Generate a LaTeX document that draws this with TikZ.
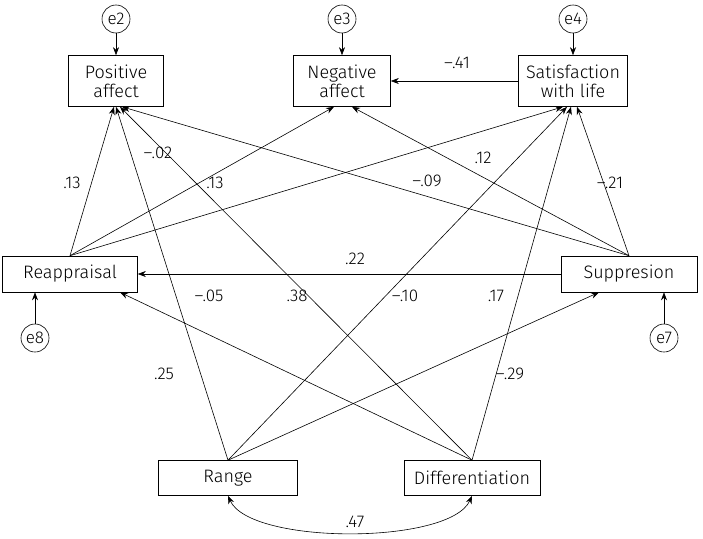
\documentclass[tikz,border=0pt]{standalone}
\usepackage{fontspec}
\setmainfont{Fira Sans Light}
\usetikzlibrary{arrows.meta}
\begin{document}
\begin{tikzpicture}[x=1pt,y=-1pt,semithick,
  box/.style={draw,inner sep=0pt,align=center,font=\fontsize{18}{19}\selectfont},
  err/.style={draw,circle,minimum size=28pt,inner sep=0pt,font=\fontsize{17}{18}\selectfont},
  arr/.style={-{Stealth[length=8pt,width=6pt]}},
  lab/.style={font=\fontsize{17}{18}\selectfont,inner sep=1pt}]
\useasboundingbox (0,0) rectangle (703,538);
\node[box,minimum width=95pt,minimum height=51pt] (pa) at (116,81) {Positive\\affect};
\node[box,minimum width=97pt,minimum height=51pt] (na) at (342,81) {Negative\\affect};
\node[box,minimum width=109pt,minimum height=51pt] (sw) at (573,81) {Satisfaction\\with life};
\node[box,minimum width=135pt,minimum height=36pt] (re) at (70,274) {Reappraisal};
\node[box,minimum width=136pt,minimum height=36pt] (su) at (629,274) {Suppresion};
\node[box,minimum width=139pt,minimum height=35pt] (ra) at (228,478) {Range};
\node[box,minimum width=136pt,minimum height=35pt] (di) at (472,478) {Differentiation};
\node[err] (e2) at (116,19) {e2};
\node[err] (e3) at (342,19) {e3};
\node[err] (e4) at (573,19) {e4};
\node[err] (e8) at (35,338) {e8};
\node[err] (e7) at (664,338) {e7};
\draw[arr] (e2) -- (pa);
\draw[arr] (e3) -- (na);
\draw[arr] (e4) -- (sw);
\draw[arr] (e8) -- (e8 |- re.south);
\draw[arr] (e7) -- (e7 |- su.south);
\draw[arr] (sw) -- (na);
\draw[arr] (su) -- (re);
\draw[arr] (re.north) -- ([xshift=-2pt]pa.south);
\draw[arr] (ra.north) -- ([xshift=0pt]pa.south);
\draw[arr] (di.north) -- ([xshift=4pt]pa.south);
\draw[arr] (su.north) -- ([xshift=6pt]pa.south);
\draw[arr] (re.north) -- ([xshift=-8pt]na.south);
\draw[arr] (su.north) -- ([xshift=10pt]na.south);
\draw[arr] (re.north) -- ([xshift=-10pt]sw.south);
\draw[arr] (ra.north) -- ([xshift=-6pt]sw.south);
\draw[arr] (di.north) -- ([xshift=-2pt]sw.south);
\draw[arr] (su.north) -- ([xshift=4pt]sw.south);
\draw[arr] (di.north) -- ([xshift=50pt]re.south);
\draw[arr] (ra.north) -- ([xshift=-30pt]su.south);
\draw[{Stealth[length=8pt,width=6pt]}-{Stealth[length=8pt,width=6pt]}] (ra.south) .. controls (250,545) and (450,545) .. (di.south);
\node[lab] (l1) at (457,63) {–.41};
\node[lab] (l2) at (72,183) {.13};
\node[lab] (l3) at (158,153) {–.02};
\node[lab] (l4) at (215,183) {.13};
\node[lab] (l5) at (427,181) {–.09};
\node[lab] (l6) at (483,158) {.12};
\node[lab] (l7) at (610,183) {–.21};
\node[lab] (l8) at (355,259) {.22};
\node[lab] (l9) at (209,296) {–.05};
\node[lab] (l10) at (297,296) {.38};
\node[lab] (l11) at (405,296) {–.10};
\node[lab] (l12) at (496,296) {.17};
\node[lab] (l13) at (164,374) {.25};
\node[lab] (l14) at (510,374) {–.29};
\node[lab] (l15) at (355,522) {.47};
\end{tikzpicture}
\end{document}
